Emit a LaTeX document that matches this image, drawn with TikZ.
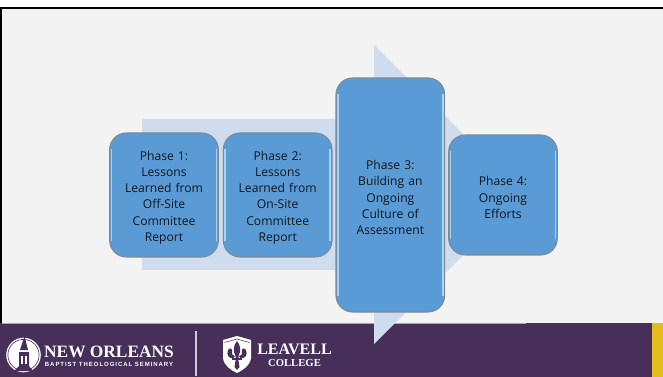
\documentclass[tikz,border=0pt]{standalone}
\usepackage{fontspec}
\usepackage{tikz}
\usetikzlibrary{positioning}
\setmainfont{Open Sans}
\newfontfamily\logoserif{Liberation Serif}
\newfontfamily\logosans[LetterSpace=16]{Liberation Sans}
\definecolor{slidebg}{HTML}{F3F3F3}
\definecolor{bandpurple}{HTML}{472F5A}
\definecolor{bandgold}{HTML}{E3BC1D}
\definecolor{arrowblue}{HTML}{CFDCEE}
\definecolor{boxblue}{HTML}{5B9BD5}
\definecolor{boxedge}{HTML}{7D8A96}
\definecolor{boxshine}{HTML}{A9D2F3}

\begin{document}
\begin{tikzpicture}[x=0.75pt,y=-0.75pt,node distance=3.75pt]

% Define block styles
\tikzstyle{phase} = [rectangle, draw=boxedge, line width=0.8pt, fill=boxblue, rounded corners=12.5pt,
    text width=76pt, align=center, minimum width=81.5pt, minimum height=93pt, outer sep=0pt, inner sep=0pt,
    font=\fontsize{9.1pt}{12.15pt}\selectfont, text=black!85!boxblue,
    execute at begin node={\rule{0pt}{10.8pt}},
    path picture={
      \fill[boxshine, sharp corners] ([xshift=0.8pt,yshift=-12pt]path picture bounding box.north west)
        rectangle ([xshift=2pt,yshift=12pt]path picture bounding box.south west);
      \fill[boxshine, sharp corners] ([xshift=-0.8pt,yshift=-12pt]path picture bounding box.north east)
        rectangle ([xshift=-2pt,yshift=12pt]path picture bounding box.south east);
    }]
\tikzstyle{logotext} = [text=white, inner sep=0pt, anchor=center]
\tikzstyle{logomark} = [fill=bandpurple, draw=none]

\useasboundingbox (0,0) rectangle (663,377);

% slide
\fill[white] (0,0) rectangle (663,377);
\fill[slidebg] (0,8) rectangle (663,323);
\fill[black] (0,7) rectangle (663,9);
\fill[black] (0,7) rectangle (2,377);
\fill[bandpurple] (0,323) rectangle (652,377);
\fill[bandgold] (652,323) rectangle (663,377);
\draw[bandpurple!45!white, line width=0.5pt] (2,323) -- (526,323);

% big arrow behind the boxes
\fill[arrowblue] (142,119) -- (374,119) -- (374,45) -- (524,195) -- (374,344) -- (374,270) -- (142,270) -- cycle;

\node[phase]		(phase1)	at (164,195)		{Phase 1:\\Lessons\\Learned from\\Off-Site\\Committee\\Report};
\node[phase]		(phase2)	[right=of phase1]	{Phase 2:\\Lessons\\Learned from\\On-Site\\Committee\\Report};
\node[phase, minimum height=175.5pt]	(phase3)	[right=3pt of phase2]	{Phase 3:\\Building an\\Ongoing\\Culture of\\Assessment};
\node[phase, minimum height=90pt]	(phase4)	[right=3pt of phase3]	{Phase 4:\\Ongoing\\Efforts};

% seminary logo
\fill[white] (23.5,355) circle (17.3);
\draw[bandpurple, line width=0.45pt] (23.5,355) circle (15.6);
\fill[logomark] (24.5,336) -- (28,350) -- (20,350) -- cycle;
\fill[logomark] (19,352) -- (29,352) -- (29,366) -- (33,371) -- (14,371) -- (19,366) -- cycle;
\fill[white] (21,356) rectangle (23,364);
\fill[white] (25,356) rectangle (27,364);
\node[logotext, font=\logoserif\bfseries\fontsize{13pt}{13pt}\selectfont] (seminary) at (109,351.5) {NEW ORLEANS};
\node[logotext, font=\logosans\bfseries\fontsize{4.5pt}{5pt}\selectfont] (seminary sub) at (109,364.5) {BAPTIST THEOLOGICAL SEMINARY};

\draw[white!75!bandpurple, line width=0.9pt] (196,331) -- (196,376);

% college logo
\fill[white] (223,340) -- (237,336) -- (251,340) -- (251,358) .. controls (250,366) and (243,370) .. (237,373) .. controls (231,370) and (224,366) .. (223,358) -- cycle;
\draw[bandpurple, line width=0.4pt] (224.5,342.5) -- (237,339) -- (249.5,342.5);
% fleur-de-lis
\fill[logomark] (237,341) .. controls (241,346) and (241,351) .. (238.5,356) -- (238.5,358) -- (235.5,358) -- (235.5,356) .. controls (233,351) and (233,346) .. (237,341) -- cycle;
\fill[logomark] (233.5,358) .. controls (229,359) and (226,355) .. (228,350) .. controls (230,347) and (233,349) .. (232,352) .. controls (231,354) and (233,356) .. (235,356) -- cycle;
\fill[logomark] (240.5,358) .. controls (245,359) and (248,355) .. (246,350) .. controls (244,347) and (241,349) .. (242,352) .. controls (243,354) and (241,356) .. (239,356) -- cycle;
\fill[logomark] (232,357.5) rectangle (242,359.5);
\fill[logomark] (235.8,359) -- (238.2,359) -- (239.5,367) -- (237,370) -- (234.5,367) -- cycle;
\node[logotext, font=\logoserif\bfseries\fontsize{12pt}{12pt}\selectfont] (college) at (294.5,349.5) {LEAVELL};
\node[logotext, font=\logoserif\bfseries\fontsize{8pt}{8pt}\selectfont] (college sub) at (294.5,363.5) {COLLEGE};

\end{tikzpicture}
\end{document}
